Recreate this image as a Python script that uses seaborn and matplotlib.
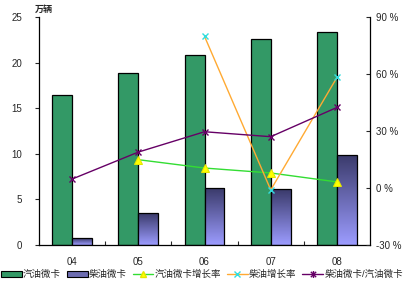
import numpy as np
import pandas as pd
import matplotlib
matplotlib.use("Agg")
import matplotlib.pyplot as plt
import seaborn as sns
from matplotlib.path import Path
from matplotlib.lines import Line2D
from matplotlib.patches import Patch
from matplotlib.colors import LinearSegmentedColormap

years = ["04", "05", "06", "07", "08"]
gas_trucks = [16.4, 18.9, 20.8, 22.6, 23.3]
diesel_trucks = [0.74, 3.5, 6.2, 6.1, 9.9]
gas_growth = [np.nan, 14.9, 10.5, 7.9, 3.2]
diesel_growth = [np.nan, np.nan, 79.8, -1.0, 58.2]
ratio = [4.7, 18.9, 29.6, 27.0, 42.4]
series_names = ["汽油微卡", "柴油微卡", "汽油微卡增长率", "柴油增长率", "柴油微卡/汽油微卡"]
left_ticks = [0, 5, 10, 15, 20, 25]
right_ticks = [-30, 0, 30, 60, 90]

sns.set_style("white")
plt.rcParams['font.family'] = ['Liberation Sans', 'Noto Sans CJK SC', 'DejaVu Sans']

fig = plt.figure(figsize=(4.04, 2.86), dpi=100)
ax = fig.add_axes([0.0965, 0.1434, 0.8195, 0.7972])

bars = pd.DataFrame({
    "year": years * 2,
    "val": gas_trucks + diesel_trucks,
    "kind": [series_names[0]] * 5 + [series_names[1]] * 5,
})
sns.barplot(data=bars, x="year", y="val", hue="kind", order=years,
            palette=["#339966", "#7777cc"], width=0.6, gap=0, dodge=True,
            edgecolor="black", linewidth=0.9, legend=False, ax=ax, saturation=1)

cmap = LinearSegmentedColormap.from_list("g", ["#9c9cff", "#3a3a6a"])
grad = np.linspace(0, 1, 256).reshape(-1, 1)
diesel_patches = ax.patches[5:10]
for p in diesel_patches:
    x0, y0 = p.get_x(), p.get_y()
    w, h = p.get_width(), p.get_height()
    im = ax.imshow(grad, cmap=cmap, origin="lower", aspect="auto",
                   extent=[x0, x0 + w, y0, y0 + h], zorder=p.get_zorder())
    im.set_clip_path(p)
    p.set_facecolor("none")
    p.set_zorder(p.get_zorder() + 0.1)

ax.set_xlim(-0.5, 4.5)
ax.set_ylim(0, 25)
ax.set_yticks(left_ticks)
ax.set_xlabel("")
ax.set_ylabel("")
ax.set_xticks(np.arange(len(years)))
ax.set_xticklabels(years)
ax.set_xticks(np.arange(len(years) - 1) + 0.5, minor=True)
ax.tick_params(axis="x", which="major", length=0, pad=9, labelsize=7)
ax.tick_params(axis="x", which="minor", length=3, direction="in", width=0.8, bottom=True)
ax.tick_params(axis="y", length=3, direction="out", width=0.8, labelsize=7, left=True, pad=9)
for s in ["top", "right"]:
    ax.spines[s].set_visible(False)
for s in ["left", "bottom"]:
    ax.spines[s].set_color("black")
    ax.spines[s].set_linewidth(0.9)
ax.text(-0.012, 1.015, "万辆", transform=ax.transAxes, fontsize=6.5,
        ha="left", va="bottom", fontweight="bold")

ax2 = ax.twinx()
xs = np.arange(len(years))
star = Path([(-1, -1), (1, 1), (-1, 1), (1, -1), (0, -1.3), (0, 1.3)],
            [Path.MOVETO, Path.LINETO, Path.MOVETO, Path.LINETO, Path.MOVETO, Path.LINETO])

lines = pd.DataFrame({"x": xs, "g": gas_growth, "d": diesel_growth, "r": ratio})
sns.lineplot(data=lines, x="x", y="g", ax=ax2, color="#33dd33", lw=1.0,
             marker="^", markersize=6, markerfacecolor="#ffff00", markeredgecolor="#e6e600")
sns.lineplot(data=lines, x="x", y="d", ax=ax2, color="#ffaa33", lw=1.0,
             marker="x", markersize=5, markeredgecolor="#33dddd", markeredgewidth=1.0)
sns.lineplot(data=lines, x="x", y="r", ax=ax2, color="#660066", lw=1.0,
             marker="x", markersize=5, markeredgecolor="#660066", markeredgewidth=1.0)
ax2.set_ylim(-30, 90)
ax2.set_yticks(right_ticks)
ax2.set_yticklabels([f"{t} %" for t in right_ticks])
ax2.set_ylabel("")
ax2.set_xlabel("")
ax2.set_xlim(-0.5, 4.5)
ax2.tick_params(axis="y", length=3, direction="in", width=0.8, labelsize=7, right=True, pad=4)
for s in ["top", "left", "bottom"]:
    ax2.spines[s].set_visible(False)
ax2.spines["right"].set_color("black")
ax2.spines["right"].set_linewidth(0.9)

handles = [
    Patch(facecolor="#339966", edgecolor="black", linewidth=0.8),
    Patch(facecolor="#6c6cb0", edgecolor="black", linewidth=0.8),
    Line2D([], [], color="#33dd33", lw=1, marker="^", ms=5, mfc="#ffff00", mec="#e6e600"),
    Line2D([], [], color="#ffaa33", lw=1, marker="x", ms=5, mec="#33dddd"),
    Line2D([], [], color="#660066", lw=1, marker=star, ms=5, mec="#660066"),
]
fig.legend(handles, series_names, loc="lower center", bbox_to_anchor=(0.5, 0.0),
           ncol=5, frameon=False, fontsize=6.8, handlelength=2.2, handletextpad=0.15,
           columnspacing=0.6, borderaxespad=0.3)

fig.savefig("out.png", dpi=100)
